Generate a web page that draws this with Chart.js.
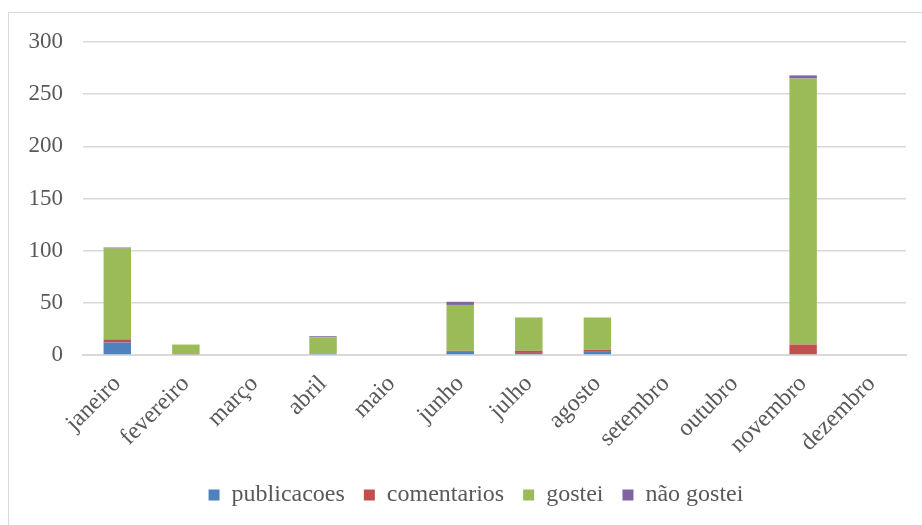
<!DOCTYPE html>
<html>
<head>
<meta charset="utf-8">
<script src="https://cdn.jsdelivr.net/npm/chart.js@4/dist/chart.umd.min.js"></script>
<style>
  html, body { margin: 0; padding: 0; background: #fff; }
  #wrap { position: relative; width: 922px; height: 525px; overflow: hidden; }
  #frame { position: absolute; left: 8px; top: 12px; width: 930px; height: 540px; border: 1px solid #d9d9d9; pointer-events: none; }
</style>
</head>
<body>
<div id="wrap">
  <canvas id="chart" width="922" height="525"></canvas>
  <div id="frame"></div>
</div>
<script>
// meses
const months = ["janeiro", "fevereiro", "março", "abril", "maio", "junho",
                "julho", "agosto", "setembro", "outubro", "novembro", "dezembro"];
// series
const publicacoes = [12, 0, 0, 1, 0, 3, 2, 3, 0, 0, 0, 0];
const comentarios = [3, 1, 0, 0, 0, 1, 2, 2, 0, 0, 10, 0];
const gostei      = [87, 9, 0, 16, 0, 44, 32, 31, 0, 0, 255, 0];
const naoGostei   = [1, 0, 0, 1, 0, 3, 0, 0, 0, 0, 3, 0];
const yTicks = [0, 50, 100, 150, 200, 250, 300];

const font = "Liberation Serif";
const txt = "#595959";
Chart.defaults.font.family = font;
Chart.defaults.color = txt;

// the legend in the original sits a bit right of centre
const shiftLegend = {
    id: "shiftLegend",
    afterLayout(chart){
        chart.legend.left += 23;
        chart.legend.right += 23;
    }
};

new Chart(document.getElementById("chart"), {
    type: "bar",
    data: {
        labels: months,
        datasets: [
            {label: "publicacoes", data: publicacoes, backgroundColor: "#4f81bd"},
            {label: "comentarios", data: comentarios, backgroundColor: "#c0504d"},
            {label: "gostei", data: gostei, backgroundColor: "#9bbb59"},
            {label: "não gostei", data: naoGostei, backgroundColor: "#8064a2"}
        ]
    },
    plugins: [shiftLegend],
    options: {
        responsive: false,
        animation: false,
        layout: {padding: {left: 0, right: 16, top: 42, bottom: 8}},
        datasets: {bar: {barPercentage: 0.4, categoryPercentage: 1}},
        plugins: {
            tooltip: {enabled: false},
            legend: {
                position: "bottom",
                labels: {
                    color: txt,
                    font: {family: font, size: 24},
                    boxWidth: 11,
                    boxHeight: 11,
                    padding: 19
                }
            }
        },
        scales: {
            x: {
                stacked: true,
                grid: {display: false},
                border: {color: "#d9d9d9", width: 2},
                ticks: {color: txt, font: {family: font, size: 24}, minRotation: 45, maxRotation: 45, padding: 7},
                afterFit: s => { s.height = 109; }
            },
            y: {
                stacked: true,
                min: 0,
                max: 300,
                afterBuildTicks: s => { s.ticks = yTicks.map(v => ({value: v})); },
                grid: {color: "#d9d9d9", lineWidth: 1.5, drawTicks: false},
                border: {display: false},
                ticks: {color: txt, font: {family: font, size: 23}, padding: 20},
                afterFit: s => { s.width = 83; }
            }
        }
    }
});
</script>
</body>
</html>
